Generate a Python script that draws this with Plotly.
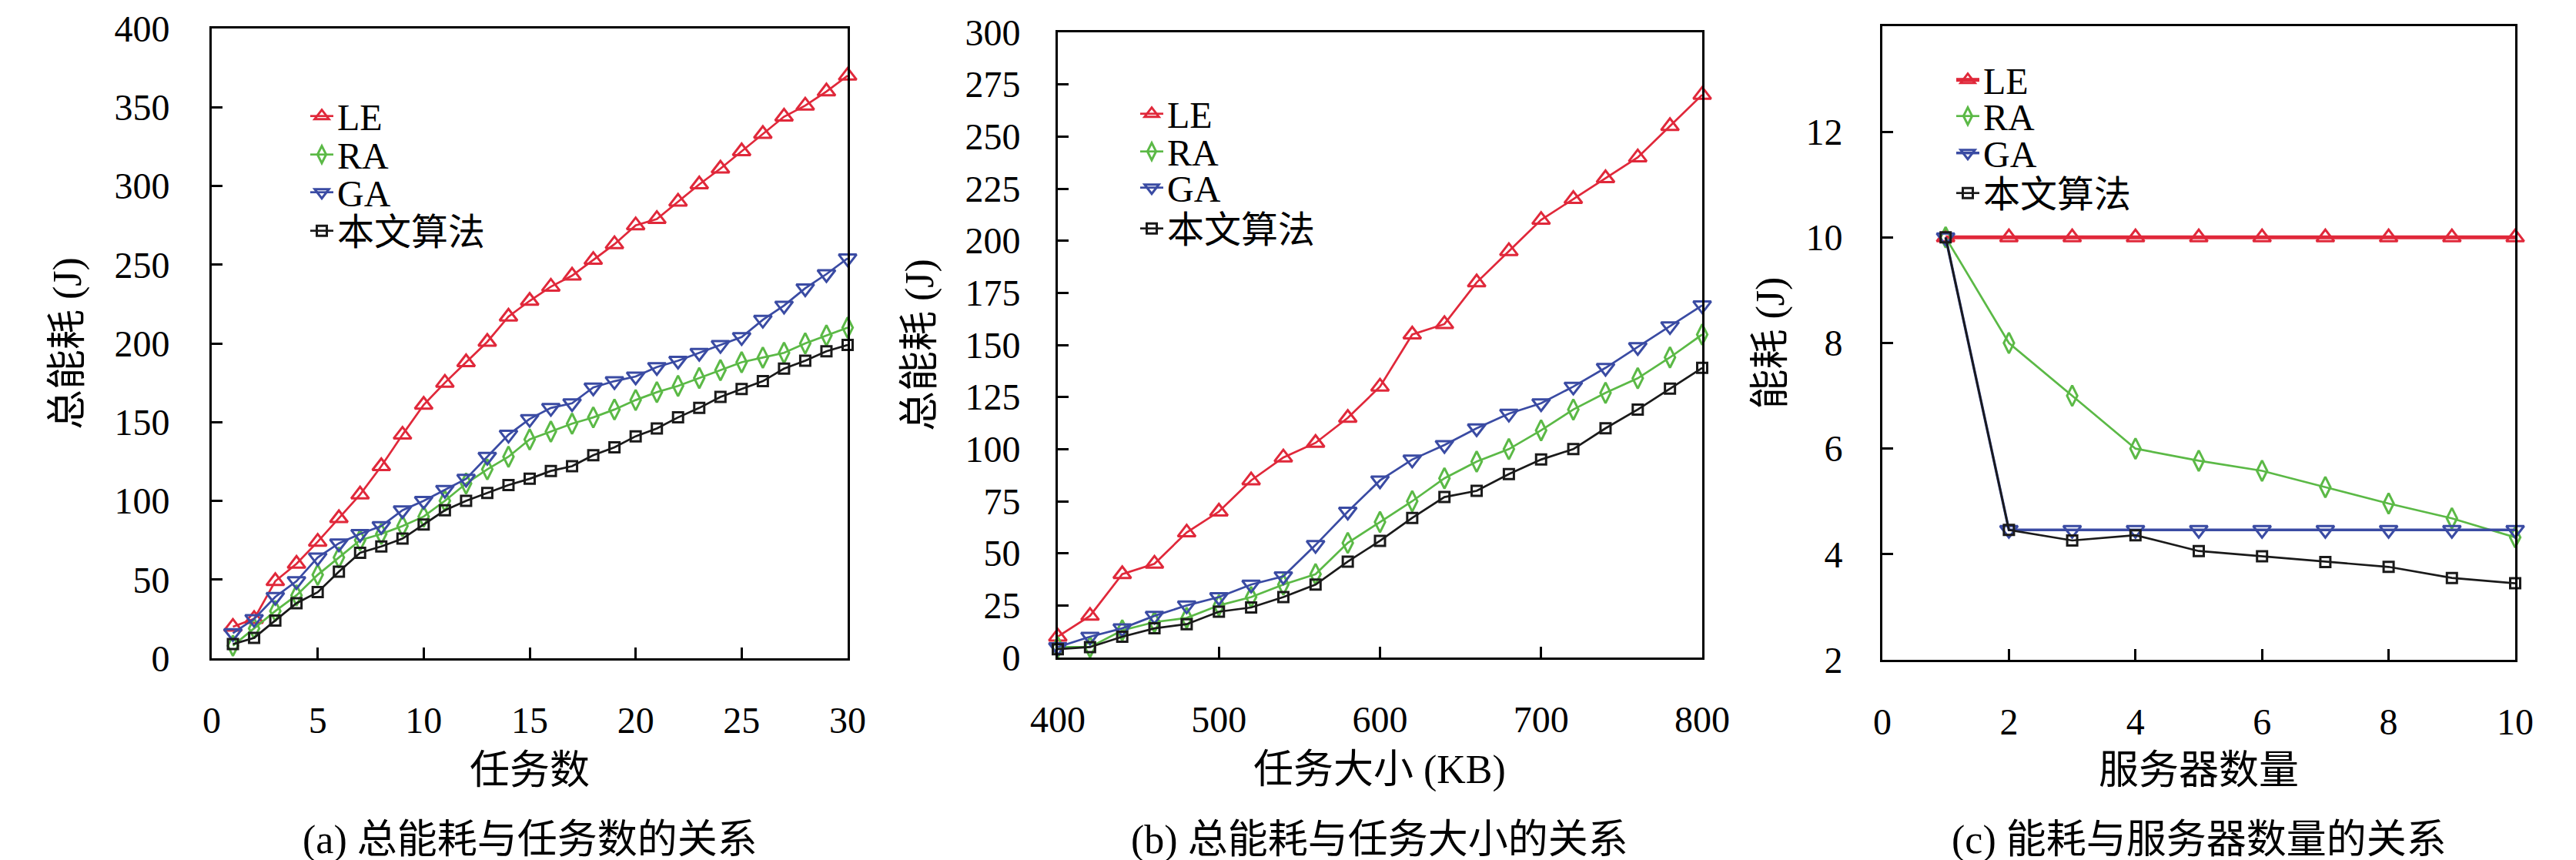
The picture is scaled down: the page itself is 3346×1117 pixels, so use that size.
import plotly.graph_objects as go

# ---- data ----
names = ["LE", "RA", "GA", "本文算法"]

# (a) total energy vs number of tasks
task_num = [1, 2, 3, 4, 5, 6, 7, 8, 9, 10, 11, 12, 13, 14, 15,
            16, 17, 18, 19, 20, 21, 22, 23, 24, 25, 26, 27, 28, 29, 30]
a_le = [20, 25, 49, 60, 74, 89, 104, 122, 142, 161, 175, 188, 201, 217, 227,
        236, 243, 253, 263, 275, 279, 290, 301, 311, 322, 333, 344, 351, 360, 370]
a_ra = [8, 19, 30, 40, 53, 64, 75, 79, 84, 90, 100, 111, 120, 128, 139,
        144, 149, 153, 158, 164, 169, 173, 178, 183, 188, 191, 194, 200, 205, 210]
a_ga = [16, 25, 39, 49, 64, 73, 79, 84, 94, 100, 107, 114, 128, 142, 152,
        159, 162, 172, 176, 179, 185, 189, 194, 199, 204, 215, 224, 235, 244, 254]
a_ours = [9, 13, 24, 35, 42, 55, 67, 71, 76, 85, 94, 100, 105, 110, 114,
          119, 122, 129, 134, 141, 146, 153, 159, 166, 171, 176, 184, 189, 195, 199]

# (b) total energy vs task size (KB)
task_size = [400, 420, 440, 460, 480, 500, 520, 540, 560, 580, 600,
             620, 640, 660, 680, 700, 720, 740, 760, 780, 800]
b_le = [10, 20, 40, 45, 60, 70, 85, 96, 103, 115, 130,
        155, 160, 180, 195, 210, 220, 230, 240, 255, 270]
b_ra = [5, 5, 13, 17, 19, 25, 29, 35, 40, 55, 65,
        75, 86, 94, 100, 109, 119, 127, 134, 144, 155]
b_ga = [5, 10, 14, 20, 25, 29, 35, 39, 54, 70, 85,
        95, 102, 110, 117, 122, 130, 139, 149, 159, 169]
b_ours = [4, 5, 10, 14, 16, 22, 24, 29, 35, 46, 56,
          67, 77, 80, 88, 95, 100, 110, 119, 129, 139]

# (c) energy vs number of servers
server_num = [1, 2, 3, 4, 5, 6, 7, 8, 9, 10]
c_le = [10, 10, 10, 10, 10, 10, 10, 10, 10, 10]
c_ra = [10, 8.0, 7.0, 6.0, 5.77, 5.58, 5.27, 4.96, 4.68, 4.32]
c_ga = [10, 4.46, 4.46, 4.46, 4.46, 4.46, 4.46, 4.46, 4.46, 4.46]
c_ours = [10, 4.46, 4.26, 4.36, 4.06, 3.96, 3.85, 3.76, 3.55, 3.45]

# tick labels
a_xticks = [0, 5, 10, 15, 20, 25, 30]
a_yticks = [0, 50, 100, 150, 200, 250, 300, 350, 400]
b_xticks = [400, 500, 600, 700, 800]
b_yticks = [0, 25, 50, 75, 100, 125, 150, 175, 200, 225, 250, 275, 300]
c_xticks = [0, 2, 4, 6, 8, 10]
c_yticks = [2, 4, 6, 8, 10, 12]

x_titles = ["任务数", "任务大小 (KB)", "服务器数量"]
y_titles = ["总能耗 (J)", "总能耗 (J)", "能耗 (J)"]
captions = ["(a) 总能耗与任务数的关系", "(b) 总能耗与任务大小的关系", "(c) 能耗与服务器数量的关系"]

# ---- styling ----
W, H = 3346, 1117
FONT = "Liberation Serif, Noto Sans CJK SC, serif"
colors = ["#E0283A", "#5BB946", "#3A4BA3", "#1A1A1A"]
symbols = ["triangle-up-open", "diamond-tall-open", "triangle-down-open", "square-open"]
msizes = [20, 19, 20, 13]

# panel boxes in pixels: left, right, top, bottom
boxes = [(267, 1093, 29, 847), (1366, 2203, 34, 846), (2437, 3259, 26, 849)]
# legend: text start x, entry centre y's
legend_pos = [(442, [143, 193, 242, 292]),
              (1520, [140, 189, 236, 289]),
              (2580, [96, 143, 191, 243])]

panels = [
    (task_num, [a_le, a_ra, a_ga, a_ours], [0, 30], a_xticks, [0, 400], a_yticks, 42),
    (task_size, [b_le, b_ra, b_ga, b_ours], [400, 800], b_xticks, [0, 300], b_yticks, 36),
    (server_num, [c_le, c_ra, c_ga, c_ours], [0, 10], c_xticks, [2, 14], c_yticks, 39),
]

fig = go.Figure()
layout = {}
annotations = []
leg_n = 0

for p, (xs, series, xr, xt, yr, yt, ystand) in enumerate(panels):
    sfx = "" if p == 0 else str(p + 1)
    l, r, t, b = boxes[p]
    for k, ys in enumerate(series):
        leg_n += 1
        leg_id = "legend" if leg_n == 1 else "legend%d" % leg_n
        lw = 2.7
        if p == 2 and k == 0:
            lw = 5
        elif p == 2 and k == 2:
            lw = 3.5
        fig.add_trace(go.Scatter(
            x=xs, y=ys, name=names[k], mode="lines+markers",
            xaxis="x" + sfx, yaxis="y" + sfx, legend=leg_id,
            line=dict(color=colors[k], width=lw),
            marker=dict(symbol=symbols[k], size=msizes[k], color=colors[k],
                        line=dict(width=3, color=colors[k])),
            cliponaxis=False,
        ))
        # one legend per entry so the rows sit where the reference has them
        tx, cys = legend_pos[p]
        layout[leg_id] = dict(
            x=(tx - 52) / W, xanchor="left",
            y=1 - cys[k] / H, yanchor="middle",
            bgcolor="rgba(0,0,0,0)", borderwidth=0,
            font=dict(family=FONT, size=48, color="black"),
        )

    axis_common = dict(showgrid=False, zeroline=False, showline=True, mirror=True,
                       linecolor="black", linewidth=3, ticks="inside", ticklen=14,
                       tickwidth=3, tickcolor="black",
                       tickfont=dict(family=FONT, size=48, color="black"))
    layout["xaxis" + sfx] = dict(axis_common, domain=[l / W, r / W], range=xr,
                                 tickvals=xt, anchor="y" + sfx, ticklabelstandoff=36)
    layout["yaxis" + sfx] = dict(axis_common, domain=[1 - b / H, 1 - t / H], range=yr,
                                 tickvals=yt, anchor="x" + sfx, ticklabelstandoff=ystand)

    cx = (l + r) / 2 / W
    cy = 1 - (t + b) / 2 / H
    annotations.append(dict(text=x_titles[p], x=cx, y=1 - 992 / H, xref="paper", yref="paper",
                            showarrow=False, xanchor="center", yanchor="middle",
                            font=dict(family=FONT, size=52, color="black")))
    annotations.append(dict(text=captions[p], x=cx, y=1 - 1083 / H, xref="paper", yref="paper",
                            showarrow=False, xanchor="center", yanchor="middle",
                            font=dict(family=FONT, size=52, color="black")))
    ytx = [80, 1187, 2291][p]
    annotations.append(dict(text=y_titles[p], x=ytx / W, y=cy, xref="paper", yref="paper",
                            showarrow=False, xanchor="center", yanchor="middle", textangle=-90,
                            font=dict(family=FONT, size=52, color="black")))

fig.update_layout(
    width=W, height=H,
    margin=dict(l=0, r=0, t=0, b=0, autoexpand=False),
    paper_bgcolor="white", plot_bgcolor="white",
    showlegend=True,
    annotations=annotations,
    **layout,
)

fig.write_html("out.html")
